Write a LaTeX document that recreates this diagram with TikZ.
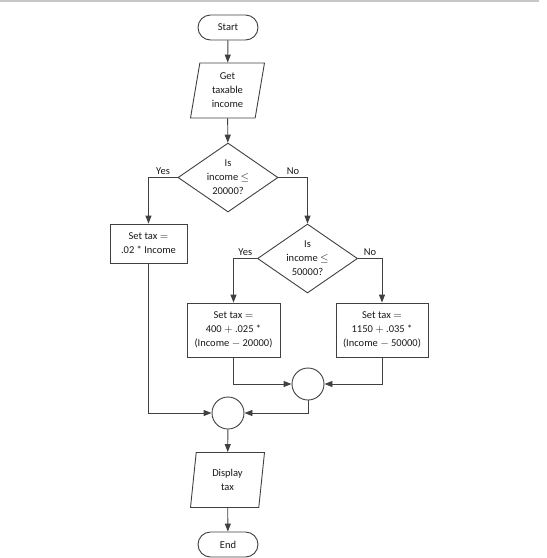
\documentclass[tikz,border=0pt]{standalone}
\usepackage{amsmath}
\usepackage{amssymb}
\usepackage{fontspec}
\setmainfont{Carlito}
\usetikzlibrary{shapes.geometric,shapes.misc,arrows.meta}

\tikzset{
  line/.style={draw=black!75, line width=0.9pt},
  flow/.style={line, -{Triangle[length=8pt,width=6pt]}},
  txt/.style={font=\fontsize{10.5}{14}\selectfont, align=center, text=black!90},
  terminal/.style={rounded rectangle, line, txt, minimum width=60pt, minimum height=25pt, inner sep=0pt},
  io/.style={trapezium, trapezium left angle=75, trapezium right angle=105, trapezium stretches body,
    line, txt, minimum width=74pt, minimum height=55pt, inner sep=0pt},
  process/.style={rectangle, line, txt, inner sep=0pt},
  decision/.style={diamond, line, minimum width=100pt, minimum height=69pt, inner sep=0pt},
  joint/.style={circle, line, minimum size=32pt, inner sep=0pt},
  ans/.style={txt, above, inner sep=2pt}
}

\begin{document}
\begin{tikzpicture}[x=1pt,y=-1pt]
    \useasboundingbox (0,0) rectangle (547,558);
    \fill[black!22] (0,0) rectangle (539,2);

    \node[terminal] (start) at (228,27.5) {Start};
    \node[io] (getinc) at (227.5,90.5) {Get\\taxable\\income};
    \node[decision, label={[txt]center:Is\\income $\leq$\\20000?}] (isa) at (228,177.5) {};
    \node[process, minimum width=77pt, minimum height=39pt] (taxa) at (148.5,243.5) {Set tax $=$\\.02 * Income};
    \node[decision, label={[txt]center:Is\\income $\leq$\\50000?}] (isb) at (307.5,258.5) {};
    \node[process, minimum width=93pt, minimum height=54pt] (taxb) at (233.5,330) {Set tax $=$\\400 $+$ .025 *\\(Income $-$ 20000)};
    \node[process, minimum width=92pt, minimum height=54pt] (taxc) at (382,330) {Set tax $=$\\1150 $+$ .035 *\\(Income $-$ 50000)};
    \node[joint] (joinb) at (308,384) {};
    \node[joint] (joina) at (228,413) {};
    \node[io] (disp) at (227.5,480) {Display\\tax};
    \node[terminal] (stop) at (228,544.5) {End};

    % main line
    \draw[flow] (start) -- (getinc);
    \draw[flow] (getinc) -- (isa);
    \draw[flow] (isa.west) -| node[ans, pos=0.25] {Yes} (taxa.north);
    \draw[flow] (isa.east) -| node[ans, pos=0.25] {No} (isb.north);
    \draw[flow] (isb.west) -| node[ans, pos=0.25] {Yes} (taxb.north);
    \draw[flow] (isb.east) -| node[ans, pos=0.25] {No} (taxc.north);

    % joining
    \draw[flow] (taxb.south) |- (joinb.west);
    \draw[flow] (taxc.south) |- (joinb.east);
    \draw[flow] (taxa.south) |- (joina.west);
    \draw[flow] (joinb.south) |- (joina.east);
    \draw[flow] (joina) -- (disp);
    \draw[flow] (disp) -- (stop);
\end{tikzpicture}
\end{document}
